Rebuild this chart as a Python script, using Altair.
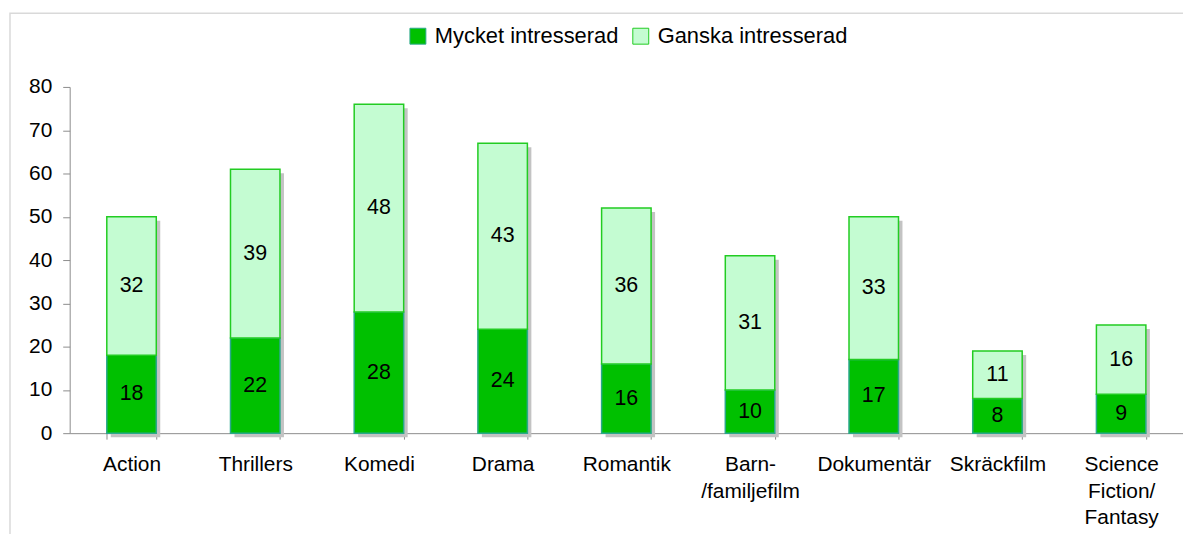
import altair as alt
import pandas as pd

categories = ["Action", "Thrillers", "Komedi", "Drama", "Romantik",
              "Barn-|/familjefilm", "Dokumentär", "Skräckfilm", "Science|Fiction/|Fantasy"]
mycket = [18, 22, 28, 24, 16, 10, 17, 8, 9]
ganska = [32, 39, 48, 43, 36, 31, 33, 11, 16]
series = ["Mycket intresserad", "Ganska intresserad"]
y_ticks = [0, 10, 20, 30, 40, 50, 60, 70, 80]

rows = []
for c, m, g in zip(categories, mycket, ganska):
    rows.append({"cat": c, "serie": series[0], "value": m, "ord": 0})
    rows.append({"cat": c, "serie": series[1], "value": g, "ord": 1})
df = pd.DataFrame(rows)
tot = pd.DataFrame({"cat": categories, "total": [m + g for m, g in zip(mycket, ganska)]})

FONT = "Liberation Sans"
GRAY = "#8c8c8c"

x_axis = alt.Axis(title=None, labelAngle=0, labelExpr="split(datum.label, '|')",
                  tickBand="extent", tickSize=6, labelPadding=15, labelFontSize=21,
                  labelLineHeight=26.5, domainColor=GRAY, tickColor=GRAY,
                  labelColor="black", grid=False)
y_axis = alt.Axis(title=None, values=y_ticks, tickSize=7, labelPadding=11,
                  labelFontSize=21, domainColor=GRAY, tickColor=GRAY,
                  labelColor="black", grid=False)
x_scale = alt.Scale(paddingInner=0.6, paddingOuter=0.3)
y_scale = alt.Scale(domain=[0, 80], nice=False)

legend_kw = dict(title=None, orient="none", legendX=339, legendY=-62,
                 direction="horizontal", symbolType="square", symbolSize=256,
                 labelFontSize=22, labelOffset=6, columnPadding=11,
                 labelColor="black", symbolStrokeWidth=1, labelLimit=400)

border = alt.Chart(pd.DataFrame({"a": [0]})).mark_rect(
    fillOpacity=0, stroke="#d9d9d9", strokeWidth=1.5
).encode(x=alt.value(-60), x2=alt.value(1400), y=alt.value(-74), y2=alt.value(800))

shadow = alt.Chart(tot).mark_bar(color="#c3c3c3", xOffset=4, yOffset=4, y2Offset=0).encode(
    x=alt.X("cat:N", sort=categories, scale=x_scale, axis=x_axis),
    y=alt.Y("total:Q", scale=y_scale, axis=y_axis),
)

bars = alt.Chart(df).mark_bar(strokeWidth=1.5).encode(
    x=alt.X("cat:N", sort=categories, scale=x_scale, axis=x_axis),
    y=alt.Y("value:Q", stack="zero", scale=y_scale, axis=y_axis),
    color=alt.Color("serie:N", sort=series,
                    scale=alt.Scale(domain=series, range=["#00c000", "#c4fcd2"]),
                    legend=alt.Legend(**legend_kw)),
    stroke=alt.Stroke("serie:N", sort=series,
                      scale=alt.Scale(domain=series, range=["#2aa88a", "#22cc22"]),
                      legend=alt.Legend(**legend_kw)),
    order=alt.Order("ord:Q"),
)

labels = alt.Chart(df).transform_stack(
    stack="value", groupby=["cat"], sort=[alt.SortField("ord")], as_=["y0", "y1"]
).transform_calculate(mid="(datum.y0 + datum.y1) / 2").mark_text(
    fontSize=21.5, color="black", baseline="middle", align="center"
).encode(
    x=alt.X("cat:N", sort=categories, scale=x_scale, axis=x_axis),
    y=alt.Y("mid:Q", scale=y_scale, axis=y_axis),
    text=alt.Text("value:Q"),
)

chart = alt.layer(border, shadow, bars, labels).properties(
    width=1119, height=348,
    autosize=alt.AutoSizeParams(type="none"),
    padding={"left": 62, "top": 78, "right": 0, "bottom": 100},
).configure(font=FONT).configure_view(stroke=None)

chart.save("out.html", embed_options={"renderer": "svg", "actions": False})
